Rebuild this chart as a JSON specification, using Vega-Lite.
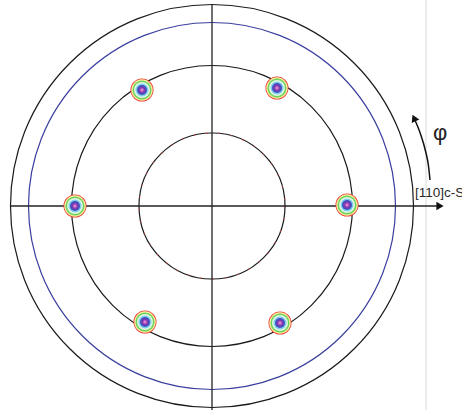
{
  "$schema": "https://vega.github.io/schema/vega-lite/v6.json",
  "width": 462,
  "height": 410,
  "autosize": "none",
  "padding": 0,
  "background": "white",
  "config": {"view": {"stroke": null}},
  "datasets": {
    "rings": [
      {"ring": "outer", "r": 201.5},
      {"ring": "pole", "r": 183.5},
      {"ring": "middle", "r": 140.5},
      {"ring": "inner", "r": 73}
    ],
    "spots": [
      {"sx": -137, "sy": 0},
      {"sx": 135, "sy": 1},
      {"sx": -70, "sy": 116},
      {"sx": 65, "sy": 118},
      {"sx": -67, "sy": -116},
      {"sx": 68, "sy": -117}
    ],
    "lines": [
      {"name": "h", "x1": -202, "x2": 228, "y1": 0, "y2": 0},
      {"name": "v", "x1": 0, "x2": 0, "y1": 202, "y2": -204},
      {"name": "edge", "x1": 214, "x2": 214, "y1": 206, "y2": -204}
    ],
    "arc": [
      {"i": 1, "ax": 218, "ay": 26},
      {"i": 2, "ax": 216.5, "ay": 40},
      {"i": 3, "ax": 213.5, "ay": 55},
      {"i": 4, "ax": 208.5, "ay": 72},
      {"i": 5, "ax": 202, "ay": 88}
    ]
  },
  "layer": [
    {
      "data": {"name": "lines"},
      "transform": [{"filter": "datum.name === 'edge'"}],
      "mark": {"type": "rule", "stroke": "#d9d9d9", "strokeWidth": 1},
      "encoding": {
        "x": {"field": "x1", "type": "quantitative", "scale": {"domain": [-212, 250]}, "axis": null},
        "y": {"field": "y1", "type": "quantitative", "scale": {"domain": [-204, 206]}, "axis": null},
        "y2": {"field": "y2"}
      }
    },
    {
      "data": {"name": "rings"},
      "mark": {"type": "point", "shape": "circle", "filled": false, "strokeWidth": 1.2, "opacity": 1},
      "encoding": {
        "x": {"datum": 0, "type": "quantitative", "scale": {"domain": [-212, 250]}, "axis": null},
        "y": {"datum": 0, "type": "quantitative", "scale": {"domain": [-204, 206]}, "axis": null},
        "size": {"field": "r", "type": "quantitative", "scale": {"type": "pow", "exponent": 2, "domain": [0, 250], "range": [0, 250000]}, "legend": null},
        "stroke": {"field": "ring", "type": "nominal", "scale": {"domain": ["outer", "pole", "middle", "inner"], "range": ["#1a1a1a", "#3a3f9e", "#1a1a1a", "#1a1a1a"]}, "legend": null}
      }
    },
    {
      "data": {"name": "rings"},
      "transform": [{"filter": "datum.ring === 'inner'"}],
      "mark": {"type": "point", "shape": "circle", "filled": false, "strokeWidth": 1.3, "stroke": "#e04848", "strokeDash": [1.5, 11], "opacity": 0.7},
      "encoding": {
        "x": {"datum": 0, "type": "quantitative", "scale": {"domain": [-212, 250]}, "axis": null},
        "y": {"datum": 0, "type": "quantitative", "scale": {"domain": [-204, 206]}, "axis": null},
        "size": {"field": "r", "type": "quantitative", "scale": {"type": "pow", "exponent": 2, "domain": [0, 250], "range": [0, 250000]}, "legend": null}
      }
    },
    {
      "data": {"name": "lines"},
      "transform": [{"filter": "datum.name !== 'edge'"}],
      "mark": {"type": "rule", "stroke": "#222222", "strokeWidth": 1.3},
      "encoding": {
        "x": {"field": "x1", "type": "quantitative", "scale": {"domain": [-212, 250]}, "axis": null},
        "x2": {"field": "x2"},
        "y": {"field": "y1", "type": "quantitative", "scale": {"domain": [-204, 206]}, "axis": null},
        "y2": {"field": "y2"}
      }
    },
    {
      "data": {"name": "lines"},
      "transform": [{"filter": "datum.name === 'h'"}],
      "mark": {"type": "point", "shape": "triangle-right", "filled": true, "color": "#111111", "size": 70, "opacity": 1},
      "encoding": {
        "x": {"field": "x2", "type": "quantitative", "scale": {"domain": [-212, 250]}, "axis": null},
        "y": {"field": "y2", "type": "quantitative", "scale": {"domain": [-204, 206]}, "axis": null}
      }
    },
    {
      "data": {"name": "arc"},
      "mark": {"type": "line", "stroke": "#111111", "strokeWidth": 1.5, "interpolate": "monotone"},
      "encoding": {
        "x": {"field": "ax", "type": "quantitative", "scale": {"domain": [-212, 250]}, "axis": null},
        "y": {"field": "ay", "type": "quantitative", "scale": {"domain": [-204, 206]}, "axis": null},
        "order": {"field": "i", "type": "quantitative"}
      }
    },
    {
      "data": {"name": "arc"},
      "transform": [{"filter": "datum.i === 5"}],
      "mark": {"type": "point", "shape": "triangle-up", "filled": true, "color": "#111111", "size": 70, "angle": -25, "opacity": 1},
      "encoding": {
        "x": {"field": "ax", "type": "quantitative", "scale": {"domain": [-212, 250]}, "axis": null},
        "y": {"field": "ay", "type": "quantitative", "scale": {"domain": [-204, 206]}, "axis": null}
      }
    },
    {
      "data": {"values": [{"label": "[110]c-Si", "tx": 203, "ty": 9}]},
      "mark": {"type": "text", "align": "left", "baseline": "alphabetic", "font": "Liberation Sans", "fontSize": 13.5, "color": "#2a2a2a"},
      "encoding": {
        "x": {"field": "tx", "type": "quantitative", "scale": {"domain": [-212, 250]}, "axis": null},
        "y": {"field": "ty", "type": "quantitative", "scale": {"domain": [-204, 206]}, "axis": null},
        "text": {"field": "label"}
      }
    },
    {
      "data": {"values": [{"label": "φ", "tx": 228, "ty": 73}]},
      "mark": {"type": "text", "align": "center", "baseline": "middle", "font": "Liberation Sans", "fontSize": 22, "color": "#222222"},
      "encoding": {
        "x": {"field": "tx", "type": "quantitative", "scale": {"domain": [-212, 250]}, "axis": null},
        "y": {"field": "ty", "type": "quantitative", "scale": {"domain": [-204, 206]}, "axis": null},
        "text": {"field": "label"}
      }
    },
    {
      "data": {"name": "spots"},
      "mark": {"type": "point", "shape": "circle", "filled": true, "color": "#ef3a3a", "size": 530, "opacity": 1},
      "encoding": {
        "x": {"field": "sx", "type": "quantitative", "scale": {"domain": [-212, 250]}, "axis": null},
        "y": {"field": "sy", "type": "quantitative", "scale": {"domain": [-204, 206]}, "axis": null}
      }
    },
    {
      "data": {"name": "spots"},
      "mark": {"type": "point", "shape": "circle", "filled": true, "color": "#f6ee9c", "size": 460, "opacity": 1},
      "encoding": {
        "x": {"field": "sx", "type": "quantitative", "scale": {"domain": [-212, 250]}, "axis": null},
        "y": {"field": "sy", "type": "quantitative", "scale": {"domain": [-204, 206]}, "axis": null}
      }
    },
    {
      "data": {"name": "spots"},
      "mark": {"type": "point", "shape": "circle", "filled": true, "color": "#6ad25a", "size": 360, "opacity": 1},
      "encoding": {
        "x": {"field": "sx", "type": "quantitative", "scale": {"domain": [-212, 250]}, "axis": null},
        "y": {"field": "sy", "type": "quantitative", "scale": {"domain": [-204, 206]}, "axis": null}
      }
    },
    {
      "data": {"name": "spots"},
      "mark": {"type": "point", "shape": "circle", "filled": true, "color": "#e4f6e6", "size": 256, "opacity": 1},
      "encoding": {
        "x": {"field": "sx", "type": "quantitative", "scale": {"domain": [-212, 250]}, "axis": null},
        "y": {"field": "sy", "type": "quantitative", "scale": {"domain": [-204, 206]}, "axis": null}
      }
    },
    {
      "data": {"name": "spots"},
      "mark": {"type": "point", "shape": "circle", "filled": true, "color": "#7fd0e6", "size": 169, "opacity": 1},
      "encoding": {
        "x": {"field": "sx", "type": "quantitative", "scale": {"domain": [-212, 250]}, "axis": null},
        "y": {"field": "sy", "type": "quantitative", "scale": {"domain": [-204, 206]}, "axis": null}
      }
    },
    {
      "data": {"name": "spots"},
      "mark": {"type": "point", "shape": "circle", "filled": true, "color": "#4150c6", "size": 100, "opacity": 1},
      "encoding": {
        "x": {"field": "sx", "type": "quantitative", "scale": {"domain": [-212, 250]}, "axis": null},
        "y": {"field": "sy", "type": "quantitative", "scale": {"domain": [-204, 206]}, "axis": null}
      }
    },
    {
      "data": {"name": "spots"},
      "mark": {"type": "point", "shape": "circle", "filled": true, "color": "#7c3cae", "size": 49, "opacity": 1},
      "encoding": {
        "x": {"field": "sx", "type": "quantitative", "scale": {"domain": [-212, 250]}, "axis": null},
        "y": {"field": "sy", "type": "quantitative", "scale": {"domain": [-204, 206]}, "axis": null}
      }
    },
    {
      "data": {"name": "spots"},
      "mark": {"type": "point", "shape": "circle", "filled": true, "color": "#e27ad6", "size": 12, "opacity": 1},
      "encoding": {
        "x": {"field": "sx", "type": "quantitative", "scale": {"domain": [-212, 250]}, "axis": null},
        "y": {"field": "sy", "type": "quantitative", "scale": {"domain": [-204, 206]}, "axis": null}
      }
    }
  ]
}
